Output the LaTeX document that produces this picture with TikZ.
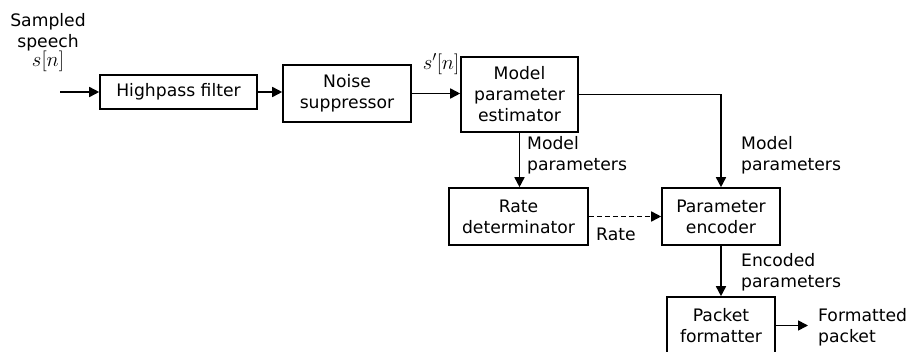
\documentclass[tikz,border=0pt]{standalone}
\usepackage{fontspec}
\setmainfont{DejaVu Sans}
\usetikzlibrary{arrows.meta,calc}
\begin{document}
\begin{tikzpicture}[x=1pt,y=-1pt,
  font=\fontsize{17.2}{21}\selectfont,
  blk/.style={draw,line width=1.6pt,align=center,inner sep=0pt},
  conn/.style={line width=1.6pt,-{Triangle[length=10pt,width=10pt]}},
  lbl/.style={align=left,anchor=west,inner sep=0pt},
  mathlbl/.style={font=\fontsize{21}{22}\selectfont,inner sep=0pt}]
\useasboundingbox (0,0) rectangle (913,351);
% blocks
\node[blk,minimum width=157pt,minimum height=34pt] (hp) at (178.5,92) {Highpass filter};
\node[blk,minimum width=128pt,minimum height=57pt] (ns) at (347,93.5) {Noise\\suppressor};
\node[blk,minimum width=117pt,minimum height=75pt] (mp) at (519.5,94.5) {Model\\parameter\\estimator};
\node[blk,minimum width=139pt,minimum height=57pt] (rd) at (518.5,216.5) {Rate\\determinator};
\node[blk,minimum width=118pt,minimum height=57pt] (pe) at (721,216.5) {Parameter\\encoder};
\node[blk,minimum width=108pt,minimum height=57pt] (pf) at (721,325.5) {Packet\\formatter};
% labels
\node[align=center,inner sep=0pt] (in) at (48,43) {Sampled\\speech\\[-2pt]{\fontsize{21}{22}\selectfont$s[n]$}};
\node[mathlbl] (sp) at (441,64) {$s'[n]$};
\node[lbl] (l1) at (527,155) {Model\\parameters};
\node[lbl] (l2) at (741,155) {Model\\parameters};
\node[lbl] (l3) at (596,234) {Rate};
\node[lbl] (l4) at (741,272) {Encoded\\parameters};
\node[lbl] (l5) at (818,327) {Formatted\\packet};
% connectors
\coordinate (src) at (60,92);
\coordinate (out) at (808,325.5);
\draw[conn] (src) -- (hp.west);
\draw[conn] (hp.east) -- (hp.east -| ns.west);
\draw[conn] (ns.east) -- (ns.east -| mp.west);
\draw[conn] (mp.east) -| (pe.north);
\draw[conn] (mp.south) -- (mp.south |- rd.north);
\draw[conn,dashed,dash pattern=on 5pt off 3pt] (rd.east) -- (pe.west);
\draw[conn] (pe.south) -- (pf.north);
\draw[conn] (pf.east) -- (out);
\end{tikzpicture}
\end{document}
